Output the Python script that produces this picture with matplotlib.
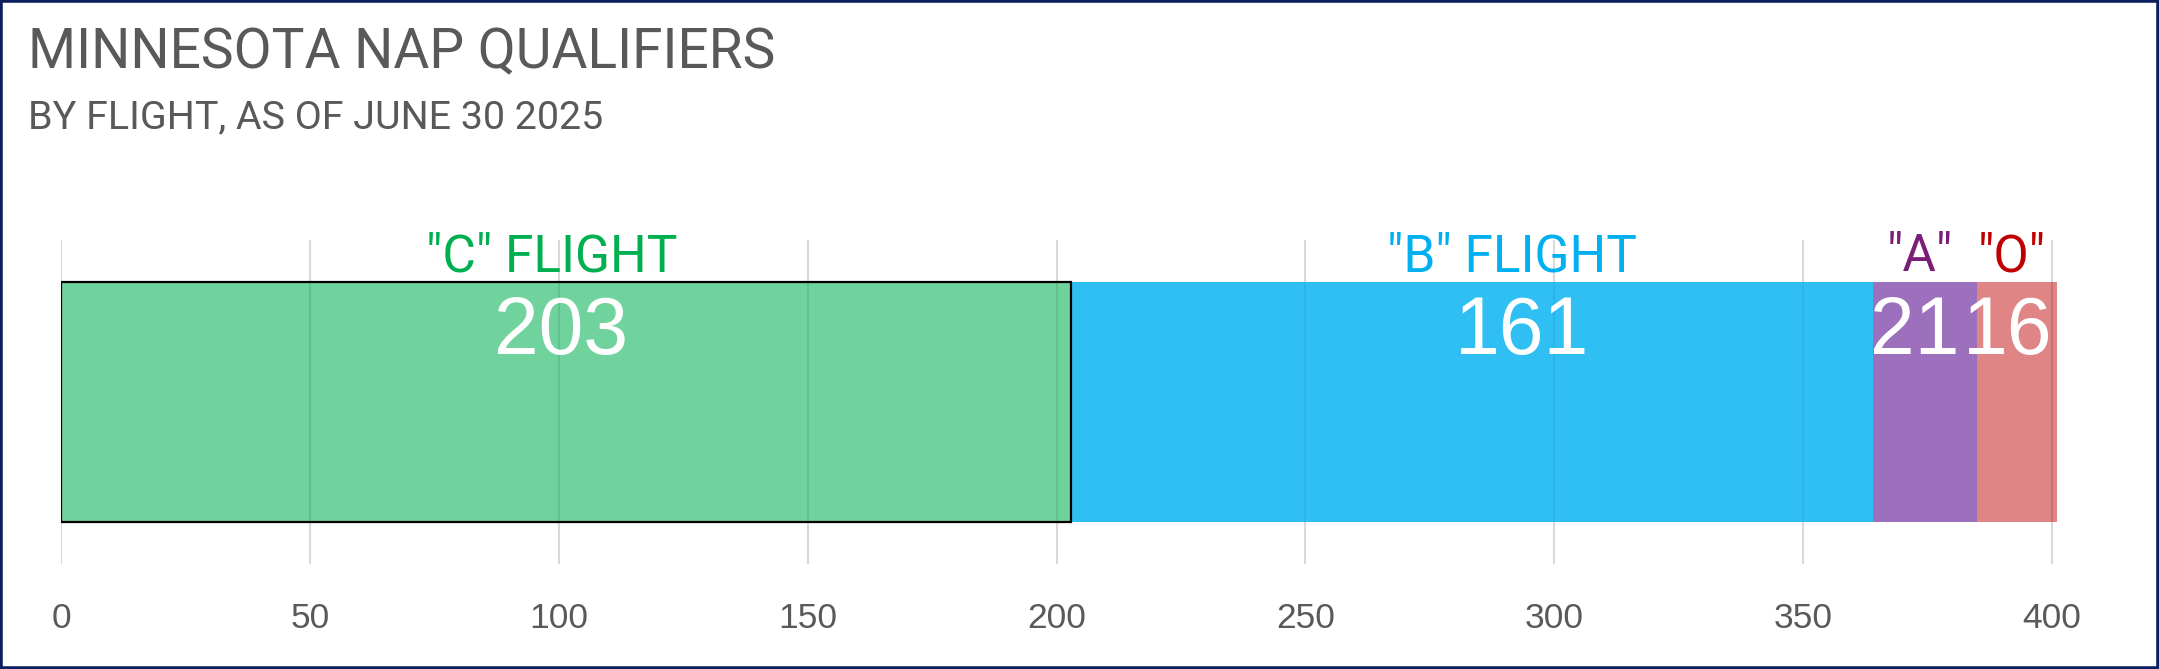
import matplotlib
matplotlib.use("Agg")
import matplotlib.pyplot as plt
from matplotlib.patches import Rectangle

# ---- data ----
categories = ['"C" FLIGHT', '"B" FLIGHT', '"A"', '"O"']
values = [203, 161, 21, 16]
value_labels = ["203", "161", "21", "16"]
xticks = [0, 50, 100, 150, 200, 250, 300, 350, 400]
title = "MINNESOTA NAP QUALIFIERS"
subtitle = "BY FLIGHT, AS OF JUNE 30 2025"

# ---- style ----
base_colors = ["#00B050", "#00B0F0", "#7030A0", "#C00000"]
alphas = [0.56, 0.81, 0.69, 0.48]
label_colors = ["#00B050", "#00B0F0", "#7A1F78", "#C00000"]
edge_colors = ["black", "none", "none", "none"]
label_nudge = [-3, 8, -1, -1]
value_nudge = [-1, 10, -2, -2]
grey = "#595959"

W, H = 2159, 669
fig = plt.figure(figsize=(W / 100, H / 100), dpi=100)
fig.patch.set_facecolor("white")

px_per_unit = (2052 - 61) / 400.0
xmax = 402
ax_left = 61 / W
ax_w = xmax * px_per_unit / W
ax_top_px, ax_bot_px = 240, 564
ax = fig.add_axes([ax_left, (H - ax_bot_px) / H, ax_w, (ax_bot_px - ax_top_px) / H])

bar_px = 522 - 283
half = (ax_bot_px - ax_top_px) / bar_px / 2
ax.set_xlim(0, xmax)
ax.set_ylim(-half, half)

left = 0
for i, v in enumerate(values):
    ax.barh(0, v, left=left, height=1.0, color=base_colors[i], alpha=alphas[i],
            linewidth=0, zorder=2)
    if edge_colors[i] != "none":
        ax.barh(0, v, left=left, height=1.0, facecolor="none",
                edgecolor=edge_colors[i], linewidth=1.6, zorder=3)
    c = left + v / 2
    ax.annotate(categories[i], xy=(c + label_nudge[i], 0.5), xytext=(0, 8),
                textcoords="offset points", ha="center", va="baseline",
                fontsize=37, color=label_colors[i], family=["Roboto", "DejaVu Sans"],
                zorder=5)
    ax.annotate(value_labels[i], xy=(c + value_nudge[i], 0.5), xytext=(0, -51.5),
                textcoords="offset points", ha="center", va="baseline",
                fontsize=58, color="white", family=["Liberation Sans", "DejaVu Sans"],
                zorder=5)
    left += v

ax.set_xticks(xticks)
ax.set_xticklabels([str(t) for t in xticks], fontsize=25.5, color=grey,
                   family=["Liberation Sans", "DejaVu Sans"])
ax.tick_params(axis="x", length=0, pad=27)
ax.set_yticks([])
ax.grid(axis="x", color="#D9D9D9", linewidth=1.5, zorder=0)
ax.set_axisbelow(True)
for s in ax.spines.values():
    s.set_visible(False)
ax.patch.set_alpha(0)

fig.text(28 / W, 1 - 68 / H, title, fontsize=39.7, color=grey,
         family=["Roboto", "DejaVu Sans"], ha="left", va="baseline")
fig.text(28 / W, 1 - 128 / H, subtitle, fontsize=28.4, color=grey,
         family=["Roboto", "DejaVu Sans"], ha="left", va="baseline")

fig.patches.append(Rectangle((0, 0), 1, 1, transform=fig.transFigure, fill=False,
                             edgecolor="#0B1F5E", linewidth=4, zorder=10))

fig.savefig("out.png", dpi=100, facecolor="white")
